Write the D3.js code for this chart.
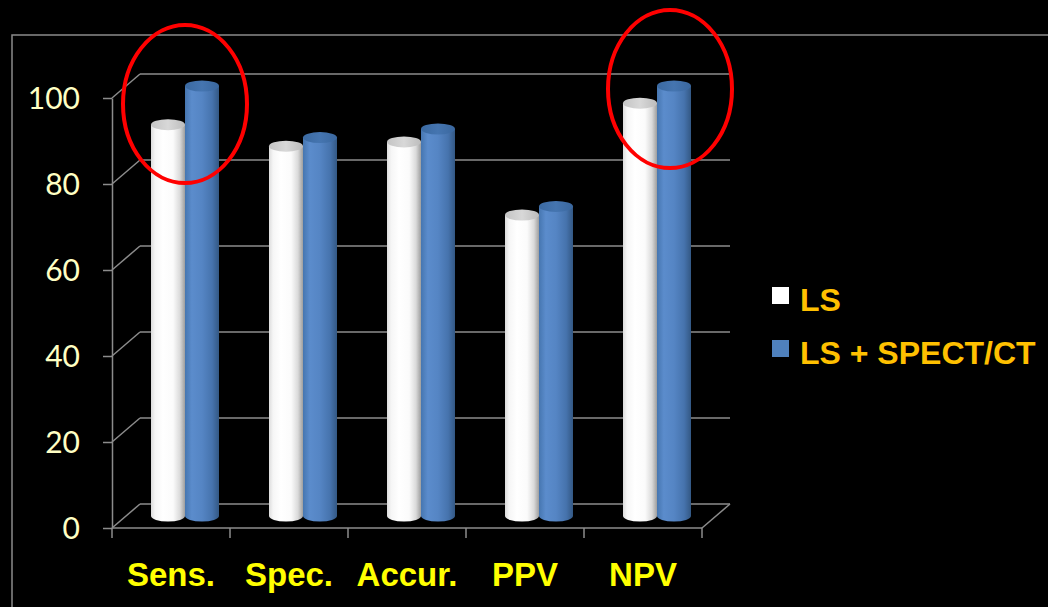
<!DOCTYPE html>
<html>
<head>
<meta charset="utf-8">
<script src="https://cdn.jsdelivr.net/npm/d3@7"></script>
<style>
  html, body { margin: 0; padding: 0; background: #000; }
  svg { display: block; }
</style>
</head>
<body>
<svg id="chart" width="1048" height="607"></svg>
<script>
// Diagnostic performance: bone scan alone vs. bone scan plus SPECT/CT
const categories = ["Sens.", "Spec.", "Accur.", "PPV", "NPV"];
const seriesNames = ["LS", "LS + SPECT/CT"];
const lsValues = [91, 86, 87, 70, 96];
const lsSpectValues = [100, 88, 90, 72, 100];
const yTicks = [0, 20, 40, 60, 80, 100];
const highlighted = ["Sens.", "NPV"];

(function () {
  const svg = d3.select("#chart");
  const W = 1048, H = 607;

  svg.append("rect").attr("width", W).attr("height", H).attr("fill", "#000");

  // outer chart frame
  svg.append("rect")
    .attr("x", 12).attr("y", 35).attr("width", 1100).attr("height", 700)
    .attr("fill", "none").attr("stroke", "#8a8a8a").attr("stroke-width", 1.5);

  // plot geometry (front plane + depth offset of the 3D floor/walls)
  const plotLeft = 112, plotRight = 702, plotBottom = 528, plotTop = 98;
  const depthX = 28, depthY = -24;

  const x0 = d3.scaleBand().domain(categories).range([plotLeft, plotRight]).padding(0);
  const pairWidth = 68;
  const x1 = d3.scaleBand().domain(seriesNames).range([0, pairWidth]).padding(0);
  const y = d3.scaleLinear().domain([0, 100]).range([plotBottom, plotTop]);

  const gridColor = "#8c8c8c";

  // back wall gridlines
  svg.append("g").selectAll("line").data(yTicks).join("line")
    .attr("x1", plotLeft + depthX).attr("x2", plotRight + depthX)
    .attr("y1", d => y(d) + depthY).attr("y2", d => y(d) + depthY)
    .attr("stroke", gridColor).attr("stroke-width", 1.5);

  // side wall diagonals
  svg.append("g").selectAll("line").data(yTicks).join("line")
    .attr("x1", plotLeft).attr("x2", plotLeft + depthX)
    .attr("y1", d => y(d)).attr("y2", d => y(d) + depthY)
    .attr("stroke", gridColor).attr("stroke-width", 1.5);

  // right floor edge
  svg.append("line")
    .attr("x1", plotRight).attr("y1", y(0))
    .attr("x2", plotRight + depthX).attr("y2", y(0) + depthY)
    .attr("stroke", gridColor).attr("stroke-width", 1.5);

  // y axis
  const yAxis = svg.append("g")
    .attr("transform", `translate(${plotLeft},0)`)
    .call(d3.axisLeft(y).tickValues(yTicks).tickSize(9).tickSizeOuter(0).tickPadding(23));
  yAxis.select(".domain").attr("stroke", gridColor).attr("stroke-width", 1.5);
  yAxis.selectAll(".tick line").attr("stroke", gridColor).attr("stroke-width", 1.5);
  yAxis.selectAll(".tick text")
    .attr("fill", "#ffffc4")
    .attr("font-family", "Lato, 'Open Sans', sans-serif")
    .attr("font-size", 30)
    .attr("dy", "0.36em");

  // x axis (baseline + category boundary ticks)
  svg.append("line")
    .attr("x1", plotLeft).attr("x2", plotRight).attr("y1", y(0)).attr("y2", y(0))
    .attr("stroke", gridColor).attr("stroke-width", 1.5);
  const boundaries = categories.map(c => x0(c)).concat([x0(categories[categories.length - 1]) + x0.bandwidth()]);
  svg.append("g").selectAll("line").data(boundaries).join("line")
    .attr("x1", d => d).attr("x2", d => d)
    .attr("y1", y(0)).attr("y2", y(0) + 10)
    .attr("stroke", gridColor).attr("stroke-width", 1.5);

  // category labels
  const xAxis = svg.append("g")
    .attr("transform", `translate(0,${y(0)})`)
    .call(d3.axisBottom(x0).tickSize(0).tickPadding(46));
  xAxis.select(".domain").remove();
  xAxis.selectAll(".tick text")
    .attr("fill", "#ffff00")
    .attr("font-family", "'Liberation Sans', Arial, sans-serif")
    .attr("font-weight", "bold")
    .attr("font-size", 33)
    .attr("dy", "0.35em");

  // gradients for cylinders
  const defs = svg.append("defs");
  function hGrad(id, stops) {
    const g = defs.append("linearGradient").attr("id", id)
      .attr("x1", "0%").attr("x2", "100%").attr("y1", "0%").attr("y2", "0%");
    stops.forEach(([o, c]) => g.append("stop").attr("offset", o).attr("stop-color", c));
  }
  hGrad("gWhite", [["0%", "#dcdcdc"], ["12%", "#f6f6f6"], ["35%", "#ffffff"], ["65%", "#fbfbfb"], ["85%", "#dadada"], ["100%", "#9e9e9e"]]);
  hGrad("gBlue", [["0%", "#4676b0"], ["20%", "#5b8ccc"], ["50%", "#5585c4"], ["80%", "#4673ad"], ["100%", "#335884"]]);
  hGrad("gWhiteTop", [["0%", "#c4c4c4"], ["50%", "#d8d8d8"], ["100%", "#bcbcbc"]]);
  hGrad("gBlueTop", [["0%", "#3b6aa2"], ["50%", "#4575b0"], ["100%", "#3a679e"]]);

  const seriesData = [
    { name: seriesNames[0], values: lsValues, body: "url(#gWhite)", cap: "url(#gWhiteTop)" },
    { name: seriesNames[1], values: lsSpectValues, body: "url(#gBlue)", cap: "url(#gBlueTop)" }
  ];

  // cylinders stand at mid-depth of the floor
  const offX = (x0.bandwidth() - pairWidth) / 2 + depthX / 2;
  const offY = depthY / 2;
  const rx = x1.bandwidth() / 2, ry = 5.5;

  const bars = [];
  categories.forEach((c, i) => {
    seriesData.forEach(s => {
      bars.push({ cat: c, series: s, value: s.values[i] });
    });
  });

  const cyl = svg.append("g").selectAll("g").data(bars).join("g")
    .attr("transform", d => `translate(${x0(d.cat) + offX + x1(d.series.name)},0)`);

  cyl.append("path")
    .attr("fill", d => d.series.body)
    .attr("d", d => {
      const yb = y(0) + offY, yt = y(d.value) + offY;
      const w = 2 * rx;
      return `M0,${yt} L0,${yb} A${rx},${ry} 0 0 0 ${w},${yb} L${w},${yt} Z`;
    });
  cyl.append("ellipse")
    .attr("cx", rx).attr("cy", d => y(d.value) + offY)
    .attr("rx", rx).attr("ry", ry)
    .attr("fill", d => d.series.cap);

  // red hand-drawn rings around the highlighted categories
  const ringShift = { "Sens.": [0, 18], "NPV": [13, 3] };
  svg.append("g").selectAll("ellipse").data(highlighted).join("ellipse")
    .attr("cx", c => x0(c) + x0.bandwidth() / 2 + depthX / 2 + ringShift[c][0])
    .attr("cy", c => y(lsSpectValues[categories.indexOf(c)]) + offY + ringShift[c][1])
    .attr("rx", 62).attr("ry", 79)
    .attr("fill", "none").attr("stroke", "#ff0000").attr("stroke-width", 4);

  // legend
  const legend = svg.append("g").attr("transform", "translate(772,0)");
  const legendItems = [
    { name: seriesNames[0], color: "#ffffff", baseline: 311 },
    { name: seriesNames[1], color: "#4f81bd", baseline: 364 }
  ];
  legend.selectAll("rect").data(legendItems).join("rect")
    .attr("x", 0).attr("y", d => d.baseline - 24).attr("width", 17).attr("height", 17)
    .attr("fill", d => d.color);
  legend.selectAll("text").data(legendItems).join("text")
    .attr("x", 28).attr("y", d => d.baseline)
    .attr("fill", "#ffc000")
    .attr("font-family", "'Liberation Sans', Arial, sans-serif")
    .attr("font-weight", "bold")
    .attr("font-size", 32)
    .text(d => d.name);
})();
</script>
</body>
</html>
